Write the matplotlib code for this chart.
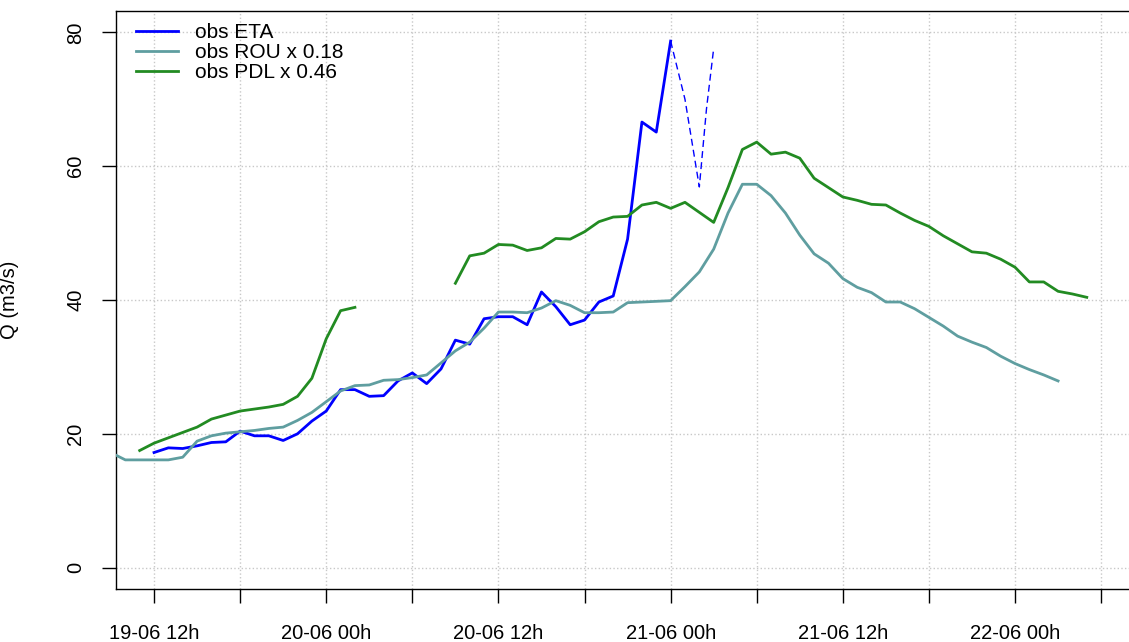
import numpy as np
from matplotlib import pyplot as plt

# hours counted from 19-06 00h
eta_start = 12
eta = [17.2, 17.9, 17.8, 18.2, 18.7, 18.8, 20.4, 19.7, 19.7, 19.0,
       20.0, 21.9, 23.4, 26.6, 26.6, 25.6, 25.7, 27.9, 29.1, 27.5,
       29.7, 34.0, 33.4, 37.2, 37.5, 37.5, 36.3, 41.2, 39.0, 36.3,
       37.0, 39.7, 40.6, 49.1, 66.6, 65.1, 78.7]
eta_dash_t = [48, 49, 50, 50.5, 51]
eta_dash = [78.7, 70.0, 56.9, 68.6, 77.6]

rou_t0 = 9.35
rou_start = 10
rou = [16.1, 16.1, 16.1, 16.1, 16.5, 18.9, 19.7, 20.1, 20.3, 20.5,
       20.8, 21.0, 22.0, 23.2, 24.8, 26.4, 27.2, 27.3, 28.0, 28.1,
       28.4, 28.8, 30.6, 32.4, 33.7, 35.8, 38.2, 38.2, 38.1, 38.8,
       39.9, 39.2, 38.1, 38.1, 38.2, 39.6, 39.7, 39.8, 39.9, 42.0,
       44.2, 47.6, 53.0, 57.3, 57.3, 55.6, 53.0, 49.7, 46.9, 45.5,
       43.2, 41.9, 41.1, 39.7, 39.7, 38.7, 37.4, 36.1, 34.6, 33.7,
       32.9, 31.6, 30.5, 29.6, 28.8, 27.9]
rou_first = 16.8

pdl_start = 11
pdl = [17.5, 18.6, 19.4, 20.2, 21.0, 22.2, 22.8, 23.4, 23.7, 24.0,
       24.4, 25.6, 28.3, 34.2, 38.4, 38.9,
       np.nan, np.nan, np.nan, np.nan, np.nan, np.nan,
       42.5, 46.6, 47.0, 48.3, 48.2, 47.4, 47.8, 49.2, 49.1, 50.2,
       51.7, 52.4, 52.5, 54.2, 54.6, 53.7, 54.6, 53.1, 51.6, 56.8,
       62.5, 63.6, 61.8, 62.1, 61.2, 58.2, 56.8, 55.4, 54.9, 54.3,
       54.2, 53.0, 51.9, 51.0, 49.6, 48.4, 47.2, 47.0, 46.1, 44.9,
       42.7, 42.7, 41.3, 40.9, 40.4]

xticks = [12, 18, 24, 30, 36, 42, 48, 54, 60, 66, 72, 78]
xlabels = ['19-06 12h', '', '20-06 00h', '', '20-06 12h', '',
           '21-06 00h', '', '21-06 12h', '', '22-06 00h', '']
yticks = [0, 20, 40, 60, 80]

plt.rcParams['font.family'] = ['Liberation Sans', 'DejaVu Sans']

fig = plt.figure(figsize=(11.29, 6.42), dpi=100)
ax = fig.add_axes([116 / 1129, 53 / 642, 1044 / 1129, 578 / 642])

t_eta = eta_start + np.arange(len(eta))
t_rou = np.concatenate([[rou_t0], rou_start + np.arange(len(rou))])
v_rou = [rou_first] + rou
t_pdl = pdl_start + np.arange(len(pdl))

ax.plot(t_eta, eta, color='blue', lw=2.0, label='obs ETA', zorder=3)
ax.plot(eta_dash_t, eta_dash, color='blue', lw=1.0, ls=(0, (5, 3)), zorder=3)
ax.plot(t_rou, v_rou, color='#5F9EA0', lw=2.0, label='obs ROU x 0.18', zorder=3)
ax.plot(t_pdl, pdl, color='#228B22', lw=2.0, label='obs PDL x 0.46', zorder=3)

ax.set_xlim(9.35, 9.35 + 1044 / 14.35)
ax.set_ylim(-3.2, 83.2)
ax.set_xticks(xticks)
ax.set_xticklabels(xlabels)
ax.set_yticks(yticks)
ax.set_yticklabels([str(v) for v in yticks], rotation=90, va='center')
ax.tick_params(labelsize=14.5, length=10, width=1, direction='out')
ax.tick_params(axis='x', pad=15)
ax.tick_params(axis='y', pad=12)
ax.grid(True, color='#c8c8c8', ls=':', lw=1)
ax.set_axisbelow(True)
for s in ax.spines.values():
    s.set_linewidth(1)
ax.set_ylabel('Q (m3/s)', fontsize=14.5)
ax.yaxis.set_label_coords(-97 / 1044, 0.5)

ax.legend(loc='upper left', bbox_to_anchor=(20 / 1044, 1 - 12 / 578),
          frameon=False, fontsize=15, handlelength=2.0, handletextpad=0.85,
          labelspacing=0.05, borderpad=0, borderaxespad=0)

fig.savefig('out.png', dpi=100)
